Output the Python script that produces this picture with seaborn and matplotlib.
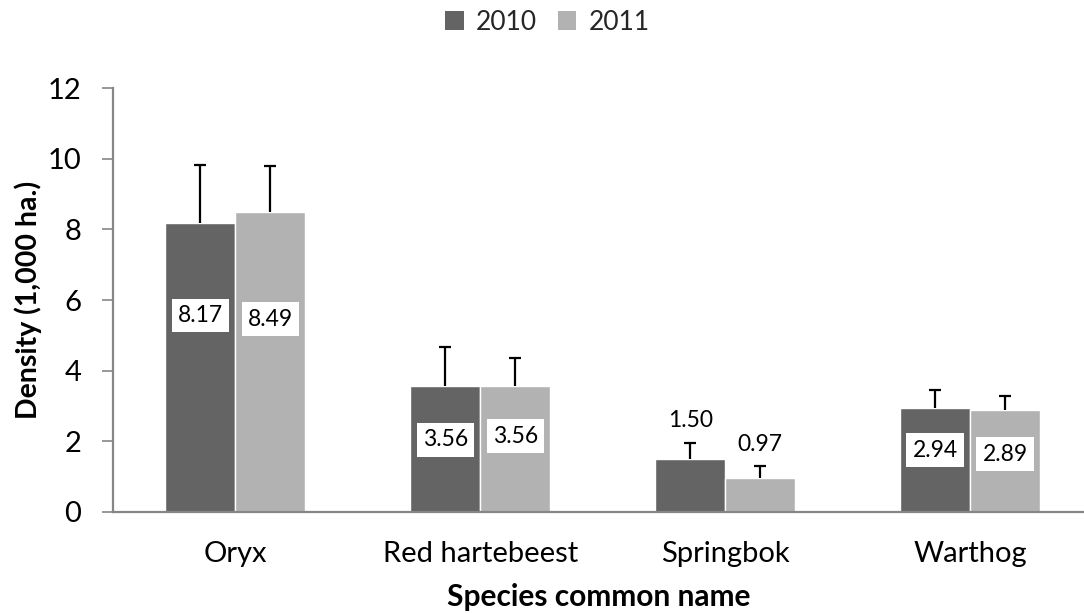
import seaborn as sns
import matplotlib.pyplot as plt
import pandas as pd
from matplotlib.patches import Patch

# values
species = ['Oryx', 'Red hartebeest', 'Springbok', 'Warthog']
years = ['2010', '2011']
density_2010 = [8.17, 3.56, 1.50, 2.94]
density_2011 = [8.49, 3.56, 0.97, 2.89]
err_2010 = [1.65, 1.11, 0.45, 0.51]
err_2011 = [1.30, 0.80, 0.33, 0.39]

# where the value labels sit (data units), as placed in the original
label_y_2010 = [5.57, 2.04, 2.58, 1.75]
label_y_2011 = [5.46, 2.15, 1.90, 1.64]
boxed = [True, True, False, True]

colours = ['#646464', '#B2B2B2']

data = pd.DataFrame({
    'species': species * 2,
    'year': [years[0]] * 4 + [years[1]] * 4,
    'density': density_2010 + density_2011,
})

sns.set_style("white")
plt.rcParams['font.family'] = ['Lato', 'DejaVu Sans']

fig = plt.figure(figsize=(10.84, 6.14), dpi=100)
ax = fig.add_axes([113 / 1084, 1 - 512 / 614, 1 - 113 / 1084, (512 - 88) / 614])

sns.barplot(data=data, x='species', y='density', hue='year', order=species,
            hue_order=years, palette=colours, width=0.572, errorbar=None,
            saturation=1, ax=ax, legend=False)

errs = [err_2010, err_2011]
labs = [label_y_2010, label_y_2011]
vals = [density_2010, density_2011]
bar_conts = list(ax.containers)  # copy: errorbar() adds more containers
for k, cont in enumerate(bar_conts):
    for i, bar in enumerate(cont):
        xc = bar.get_x() + bar.get_width() / 2
        h = bar.get_height()
        eb = ax.errorbar(xc, h, yerr=[[0], [errs[k][i]]], fmt='none', ecolor='black',
                         elinewidth=1.6, capsize=4, capthick=1.6, zorder=1.5)
        # only the upper cap, like Excel's "plus" error bars
        for cap in eb[1]:
            if cap.get_ydata()[0] <= h + 1e-9:
                cap.set_visible(False)
        bb = dict(facecolor='white', edgecolor='none', pad=4.5) if boxed[i] else None
        ax.text(xc, labs[k][i], f'{vals[k][i]:.2f}', ha='center', va='center',
                fontsize=16.5, color='black', bbox=bb, zorder=4)

ax.set_xlim(-0.5, 3.465)
ax.set_ylim(0, 12)
ax.set_yticks(range(0, 13, 2))

for s in ['top', 'right']:
    ax.spines[s].set_visible(False)
for s in ['left', 'bottom']:
    ax.spines[s].set_color('#868686')
    ax.spines[s].set_linewidth(1.6)

ax.tick_params(axis='y', direction='out', length=8, width=1.2, color='#868686',
               pad=15, labelsize=21, left=True, labelcolor='black')
ax.tick_params(axis='x', length=0, pad=21, labelsize=21, labelcolor='black')

ax.set_xlabel('Species common name', fontsize=21.5, fontweight='bold', color='black')
ax.set_ylabel('Density (1,000 ha.)', fontsize=20.5, fontweight='bold', color='black')
ax.xaxis.set_label_coords(0.5, -(583 - 512) / 424)
ax.yaxis.set_label_coords(-(113 - 42) / 971, 0.5)

handles = [Patch(facecolor=c, edgecolor='none') for c in colours]
fig.legend(handles, years, loc='center', bbox_to_anchor=(0.505, 1 - 22 / 614),
           ncol=2, frameon=False, fontsize=19, handlelength=0.7, handleheight=0.7,
           handletextpad=0.45, columnspacing=0.8)

fig.savefig('out.png', dpi=100)
